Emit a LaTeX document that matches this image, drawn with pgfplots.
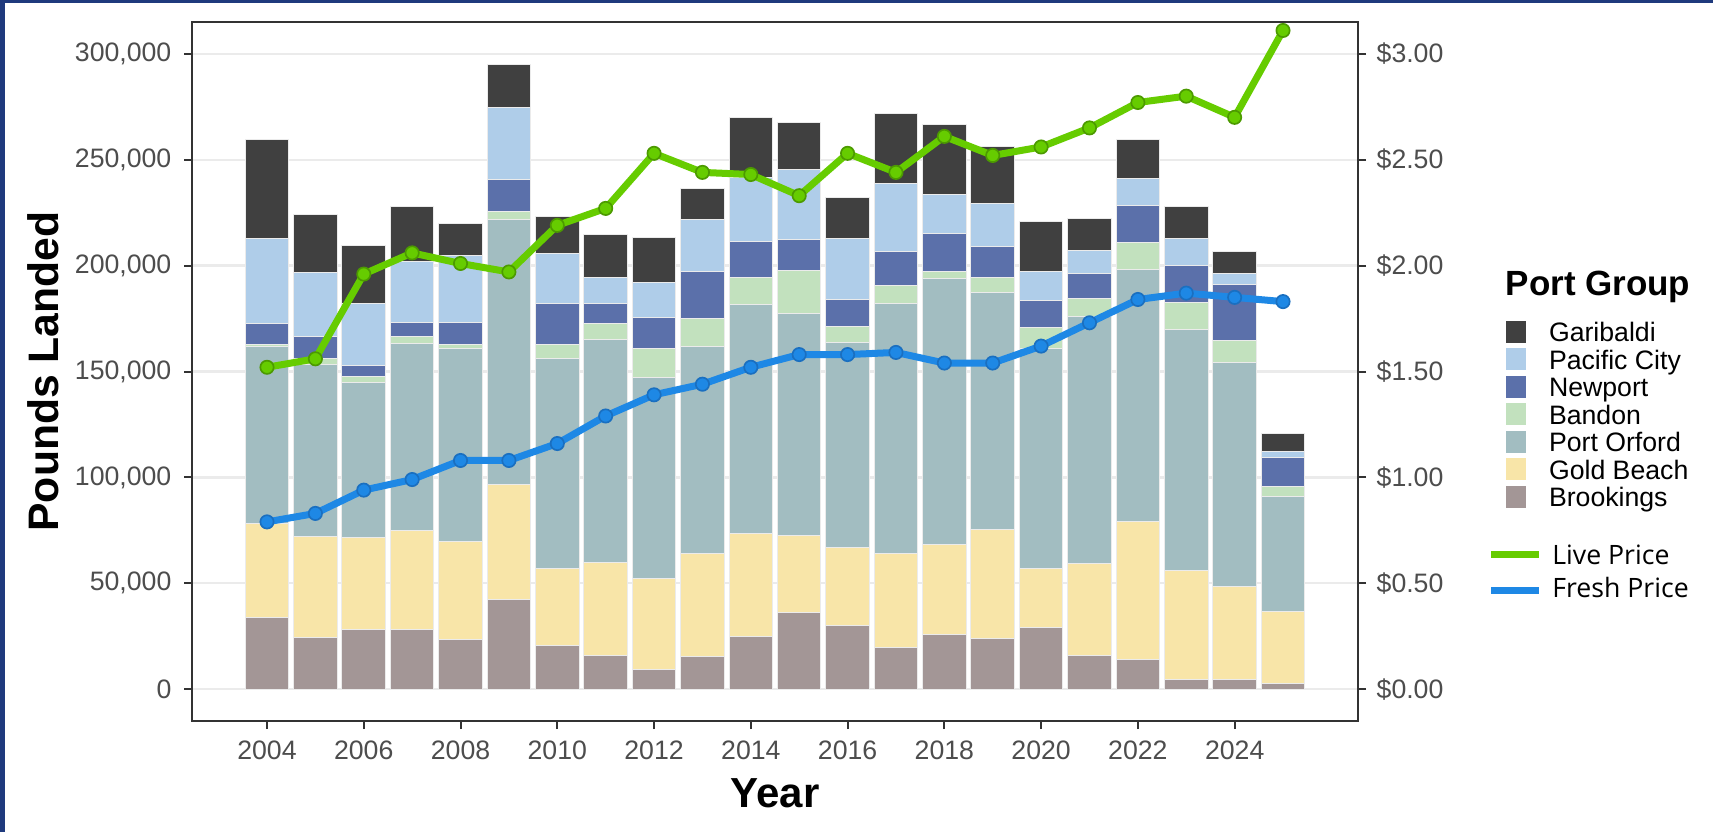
\documentclass[border=0pt]{standalone}
\usepackage{pgfplots}
\pgfplotsset{compat=1.18}
\usepackage{pgfplotstable}
\usepackage{fontspec}
\setmainfont{Liberation Sans}
\newfontfamily\keyfont{Open Sans}

\definecolor{navyedge}{HTML}{1F3A7D}
\definecolor{garibaldi}{HTML}{404040}
\definecolor{pacific}{HTML}{AFCDE9}
\definecolor{newport}{HTML}{5B70AA}
\definecolor{bandon}{HTML}{C2E1BE}
\definecolor{orford}{HTML}{A2BDC1}
\definecolor{goldbeach}{HTML}{F8E5A8}
\definecolor{brookings}{HTML}{A39696}
\definecolor{livegreen}{HTML}{66CC00}
\definecolor{liveedge}{HTML}{4C9A00}
\definecolor{freshblue}{HTML}{1E88E5}
\definecolor{freshedge}{HTML}{1A6FC0}
\definecolor{ticktext}{HTML}{4D4D4D}
\definecolor{panel}{HTML}{333333}
\definecolor{gridc}{HTML}{EBEBEB}

% pounds landed per port group, and price per pound
\pgfplotstableread{
year brook gold orford bandon newport pacific garib live fresh
2004 34000 44400 83200 1300 9700 40300 46500 1.52 0.79
2005 24400 47600 81500 2800 10200 30200 27400 1.56 0.83
2006 28300 43200 73200 3100 5000 29100 27700 1.96 0.94
2007 28300 46500 88400 3300 6800 28700 26100 2.06 0.99
2008 23300 46600 90800 2200 10400 31400 15000 2.01 1.08
2009 42500 54000 125200 3800 15100 33900 20500 1.97 1.08
2010 20800 36200 99100 6500 19300 23600 17500 2.19 1.16
2011 15900 43900 105100 8000 9000 12400 20200 2.27 1.29
2012 9400 42700 95200 13600 14400 16500 21400 2.53 1.39
2013 15600 48700 97600 13100 22200 24500 14500 2.44 1.44
2014 24700 48800 107900 12900 16900 30200 28700 2.43 1.52
2015 36100 36700 104700 20000 14800 33300 22000 2.33 1.58
2016 30100 36700 97000 7300 12900 28600 19600 2.53 1.58
2017 19500 44800 117600 8800 16100 31900 33000 2.44 1.59
2018 26000 42300 125400 3500 18100 18500 32600 2.61 1.54
2019 23900 51700 111500 7200 14500 20600 26900 2.52 1.54
2020 29100 27900 103900 9700 12900 13700 23700 2.56 1.62
2021 15900 43600 116300 8500 12100 10500 15100 2.65 1.73
2022 13900 65300 119100 12400 17800 12500 18600 2.77 1.84
2023 4700 51500 113600 12900 17300 12900 15100 2.80 1.87
2024 4700 43800 105900 10100 26500 5400 10400 2.70 1.85
2025 2500 34000 54500 4900 13500 2900 8200 3.11 1.83
}\landings

\pgfplotsset{
  /pgf/number format/assume math mode=true,
  panelaxis/.style={
    at={(57.6pt,33.3pt)}, anchor=south west,
    width=349.8pt, height=209.7pt, scale only axis,
    xmin=2002.45, xmax=2026.55,
    axis line style={panel, line width=0.6pt},
    tick style={panel, line width=0.6pt},
    tick align=outside,
    major tick length=2.4pt,
    minor tick num=0,
    tick label style={font=\fontsize{8}{9.6}\selectfont, text=ticktext, inner sep=0pt},
  },
}

\begin{document}
\begin{tikzpicture}[x=1pt,y=1pt]
\fill[white] (0,0) rectangle (513.9,249.6);
\fill[navyedge] (0,0) rectangle (1.5,249.6);
\fill[navyedge] (0,248.7) rectangle (513.9,249.6);

\begin{axis}[
  panelaxis,
  ymin=-15000, ymax=315000,
  xtick={2004,2006,...,2024},
  ytick={0,50000,...,300000},
  xtick pos=bottom, ytick pos=left,
  xticklabel={\pgfmathprintnumber[fixed,precision=0,1000 sep={}]{\tick}},
  yticklabel={\pgfmathprintnumber[fixed,precision=0,1000 sep={,}]{\tick}},
  x tick label style={anchor=north, yshift=-3.3pt},
  y tick label style={anchor=east, xshift=-3.6pt},
  scaled y ticks=false,
  ymajorgrids, grid style={gridc, line width=0.7pt},
  ybar stacked, bar width=0.9,
  every axis plot/.append style={draw=black!8, line width=0.3pt},
]
  \addplot[fill=brookings] table[x=year,y=brook] {\landings};
  \addplot[fill=goldbeach] table[x=year,y=gold] {\landings};
  \addplot[fill=orford] table[x=year,y=orford] {\landings};
  \addplot[fill=bandon] table[x=year,y=bandon] {\landings};
  \addplot[fill=newport] table[x=year,y=newport] {\landings};
  \addplot[fill=pacific] table[x=year,y=pacific] {\landings};
  \addplot[fill=garibaldi] table[x=year,y=garib] {\landings};
\end{axis}

\begin{axis}[
  panelaxis,
  ymin=-0.15, ymax=3.15,
  axis x line=none, axis y line*=right,
  ytick={0,0.5,...,3},
  yticklabel={\$\pgfmathprintnumber[fixed,fixed zerofill,precision=2]{\tick}},
  y tick label style={anchor=west, xshift=3.0pt},
]
  \addplot[freshblue, line width=2.1pt, mark=*, mark size=2pt,
    mark options={fill=freshblue, draw=freshedge, line width=0.5pt}]
    table[x=year,y=fresh] {\landings};
  \addplot[livegreen, line width=2.1pt, mark=*, mark size=2pt,
    mark options={fill=livegreen, draw=liveedge, line width=0.5pt}]
    table[x=year,y=live] {\landings};
\end{axis}

% axis titles
\node[anchor=base, inner sep=0pt, font=\fontsize{12.6}{15}\selectfont\bfseries] at (232.5,7.5) {Year};
\node[anchor=base, inner sep=0pt, rotate=90, font=\fontsize{12.8}{15}\selectfont\bfseries] at (17.4,138.15) {Pounds Landed};

% legend
\node[anchor=base west, inner sep=0pt, font=\fontsize{10.5}{12}\selectfont\bfseries] at (451.5,161.0) {Port Group};
\foreach \name/\col [count=\i from 0] in {Garibaldi/garibaldi, Pacific City/pacific, Newport/newport, Bandon/bandon, Port Orford/orford, Gold Beach/goldbeach, Brookings/brookings}{
  \pgfmathsetmacro\yt{(832-320.7-27.5*\i)*0.3}
  \fill[\col] (451.8,\yt) rectangle ++(5.9,-6.6);
  \node[anchor=base west, inner sep=0pt, font=\fontsize{8}{9.6}\selectfont] at (464.5,{\yt-6.3}) {\name};
}
\draw[livegreen, line width=2.2pt] (447.3,83.3) -- (461.8,83.3);
\draw[freshblue, line width=2.2pt] (447.3,72.4) -- (461.8,72.4);
\node[anchor=base west, inner sep=0pt, font=\keyfont\fontsize{8}{9.6}\selectfont] at (465.5,80.3) {Live Price};
\node[anchor=base west, inner sep=0pt, font=\keyfont\fontsize{8}{9.6}\selectfont] at (465.5,70.4) {Fresh Price};
\end{tikzpicture}
\end{document}
